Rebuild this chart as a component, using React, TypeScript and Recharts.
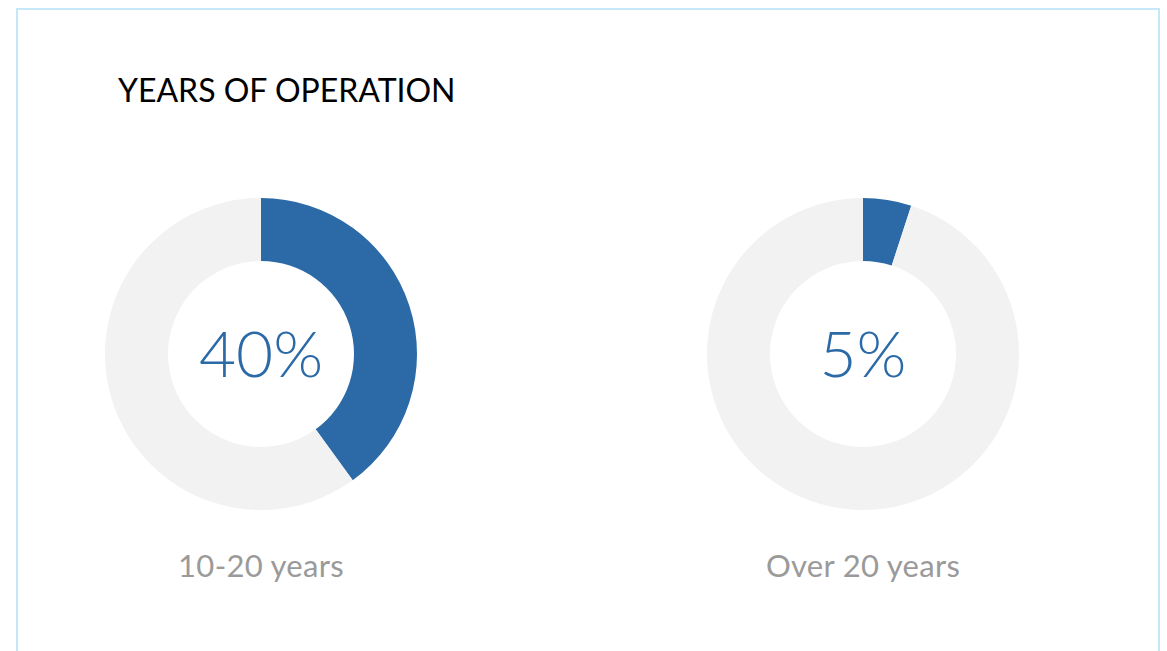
import React from "react";
import { PieChart, Pie, Cell, Label } from "recharts";

const title = "YEARS OF OPERATION";
const categories = ["10-20 years", "Over 20 years"];
const shares = [40, 5];
const centerX = [261, 863];

const BLUE = "#2b6aa6";
const GREY = "#f2f2f2";
const FONT = "Lato, 'Open Sans', sans-serif";

export default function App() {
  return (
    <div style={{ position: "absolute", left: 0, top: 0, width: 1167, height: 651, overflow: "hidden", background: "#fff" }}>
      <div
        style={{
          position: "absolute",
          left: 16,
          top: 8,
          width: 1144,
          height: 700,
          border: "2px solid #c6e7f8",
          boxSizing: "border-box",
        }}
      />
      <div
        style={{
          position: "absolute",
          left: 118,
          top: 70,
          fontFamily: FONT,
          fontSize: 32,
          fontWeight: 400,
          color: "#000",
          whiteSpace: "nowrap",
          lineHeight: "40px",
        }}
      >
        {title}
      </div>
      {categories.map((cat, i) => {
        const data = [
          { name: cat, value: shares[i] },
          { name: "rest", value: 100 - shares[i] },
        ];
        return (
          <div key={cat} style={{ position: "absolute", left: centerX[i] - 170, top: 354 - 170 }}>
            <PieChart width={340} height={340} margin={{ top: 0, right: 0, bottom: 0, left: 0 }}>
              <Pie
                data={data}
                dataKey="value"
                cx={170}
                cy={170}
                innerRadius={93}
                outerRadius={156}
                startAngle={90}
                endAngle={-270}
                stroke="none"
                isAnimationActive={false}
              >
                <Cell fill={BLUE} />
                <Cell fill={GREY} />
                <Label
                  value={`${shares[i]}%`}
                  position="center"
                  fill={BLUE}
                  style={{ fontFamily: FONT, fontSize: 64, fontWeight: 300 }}
                />
              </Pie>
            </PieChart>
          </div>
        );
      })}
      {categories.map((cat, i) => (
        <div
          key={cat + "-label"}
          style={{
            position: "absolute",
            left: centerX[i] - 200,
            width: 400,
            top: 545,
            textAlign: "center",
            fontFamily: FONT,
            fontSize: 31,
            fontWeight: 400,
            letterSpacing: 0.3,
            color: "#9a9a9a",
            lineHeight: "40px",
          }}
        >
          {cat}
        </div>
      ))}
    </div>
  );
}
